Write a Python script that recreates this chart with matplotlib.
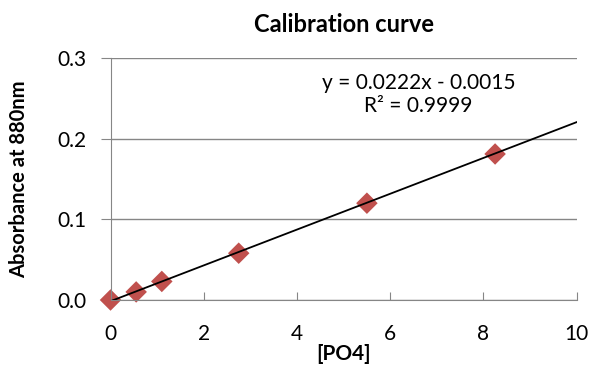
import matplotlib.pyplot as plt
import numpy as np

plt.rcParams['font.family'] = ['Lato', 'DejaVu Sans']

# standards: phosphate concentration vs absorbance
conc = [0, 0.55, 1.1, 2.75, 5.5, 8.25]
absorbance = [0.0, 0.010, 0.023, 0.058, 0.120, 0.181]

# linear trendline
slope = 0.0222
intercept = -0.0015
r2 = 0.9999

grey = '#868686'

fig = plt.figure(figsize=(5.92, 3.68), dpi=100)
ax = fig.add_axes([0.1867, 0.1848, 0.7874, 0.6576])

xs = np.array([0, 10])
ax.plot(xs, slope * xs + intercept, color='black', lw=1.3, zorder=3)
ax.scatter(conc, absorbance, marker='D', s=120, color='#C0504D',
           edgecolors='none', zorder=2, clip_on=False)

ax.set_xlim(0, 10)
ax.set_ylim(0, 0.3)
ax.set_xticks([0, 2, 4, 6, 8, 10])
ax.set_yticks([0, 0.1, 0.2, 0.3])
ax.set_yticklabels(['0.0', '0.1', '0.2', '0.3'])
ax.yaxis.grid(True, color=grey, lw=1)
ax.set_axisbelow(True)

for s in ['top', 'right']:
    ax.spines[s].set_visible(False)
for s in ['left', 'bottom']:
    ax.spines[s].set_color(grey)
ax.tick_params(axis='y', direction='out', length=7, color=grey, labelsize=15, pad=10)
ax.tick_params(axis='x', direction='in', length=6, color=grey, labelsize=15, pad=17)

ax.set_title('Calibration curve', fontsize=17, fontweight='bold', pad=19)
ax.set_xlabel('[PO4]', fontsize=15, fontweight='bold', labelpad=0)
ax.set_ylabel('Absorbance at 880nm', fontsize=14.5, fontweight='bold', labelpad=21)

sign = '-' if intercept < 0 else '+'
ax.text(0.661, 0.85, f'y = {slope:.4f}x {sign} {abs(intercept):.4f}\nR² = {r2:.4f}',
        transform=ax.transAxes, ha='center', va='center', fontsize=15,
        linespacing=1.2)

fig.savefig('out.png', dpi=100)
